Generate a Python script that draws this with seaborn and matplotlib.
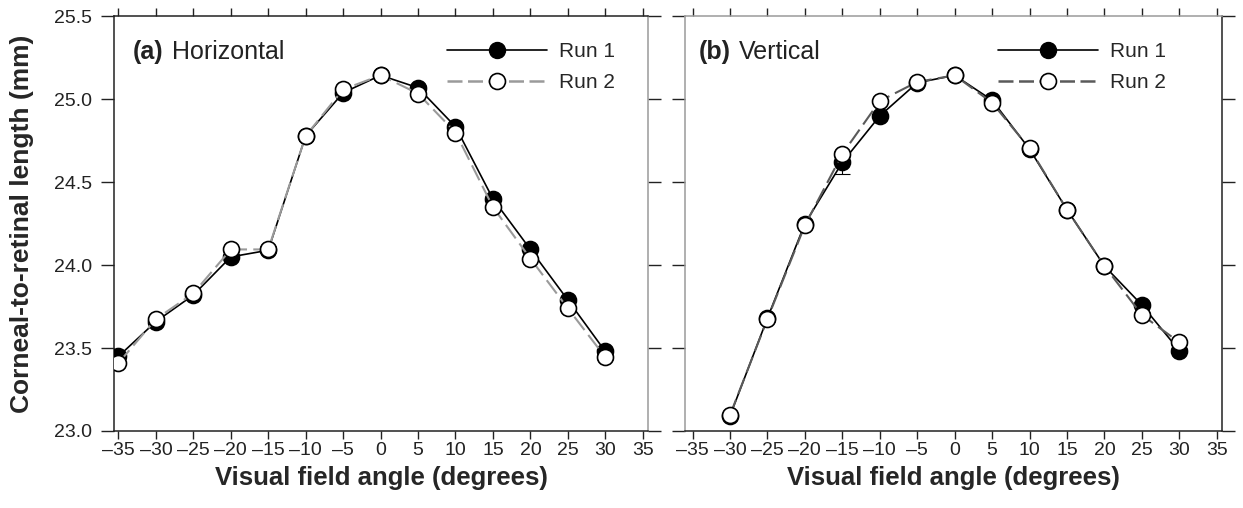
import numpy as np
import pandas as pd
import matplotlib
matplotlib.use("Agg")
import matplotlib.pyplot as plt
from matplotlib.lines import Line2D
import seaborn as sns

# Visual field angles (degrees)
angles_h = [-35, -30, -25, -20, -15, -10, -5, 0, 5, 10, 15, 20, 25, 30]
angles_v = [-30, -25, -20, -15, -10, -5, 0, 5, 10, 15, 20, 25, 30]

# Corneal-to-retinal length (mm), horizontal meridian
h_run1 = [23.45, 23.66, 23.82, 24.05, 24.09, 24.78, 25.04, 25.145, 25.07, 24.835, 24.40, 24.095, 23.79, 23.48]
h_run2 = [23.41, 23.675, 23.83, 24.095, 24.095, 24.78, 25.06, 25.145, 25.035, 24.80, 24.35, 24.04, 23.74, 23.445]
h_err1 = [0.015, 0.015, 0.012, 0.015, 0.012, 0.012, 0.012, 0.008, 0.015, 0.015, 0.015, 0.012, 0.015, 0.015]
h_err2 = [0.015, 0.015, 0.012, 0.015, 0.02, 0.012, 0.012, 0.008, 0.012, 0.015, 0.015, 0.012, 0.015, 0.015]

# Corneal-to-retinal length (mm), vertical meridian
v_run1 = [23.09, 23.68, 24.25, 24.62, 24.90, 25.10, 25.145, 24.995, 24.70, 24.335, 23.995, 23.76, 23.485]
v_run2 = [23.095, 23.675, 24.24, 24.67, 24.99, 25.105, 25.145, 24.98, 24.705, 24.335, 23.995, 23.70, 23.535]
v_err1 = [0.012, 0.015, 0.012, 0.07, 0.012, 0.008, 0.008, 0.012, 0.015, 0.015, 0.012, 0.015, 0.015]
v_err2 = [0.012, 0.015, 0.012, 0.015, 0.012, 0.008, 0.008, 0.012, 0.015, 0.015, 0.012, 0.015, 0.015]

panel_tags = ["(a)", "(b)"]
panel_names = ["Horizontal", "Vertical"]
run_labels = ["Run 1", "Run 2"]
x_ticks = list(range(-35, 36, 5))
y_ticks = [23.0, 23.5, 24.0, 24.5, 25.0, 25.5]

sns.set_theme(style="ticks")
plt.rcParams["font.family"] = ["Liberation Sans", "DejaVu Sans"]

fig = plt.figure(figsize=(12.43, 5.08), dpi=100)
ax1 = fig.add_axes([0.0917, 0.1516, 0.4296, 0.816])
ax2 = fig.add_axes([0.5511, 0.1516, 0.432, 0.816])

MS = 11.5
panels = [
    (ax1, angles_h, h_run1, h_run2, h_err1, h_err2, (-35.6, 35.7), "#9a9a9a", 0.623),
    (ax2, angles_v, v_run1, v_run2, v_err1, v_err2, (-36.0, 35.7), "#5a5a5a", 0.582),
]

for i, (ax, ang, r1, r2, e1, e2, xlim, dash_col, leg_x) in enumerate(panels):
    df = pd.DataFrame({"angle": ang, "run1": r1, "run2": r2})
    ax.errorbar(ang, r1, yerr=e1, fmt="none", ecolor="black", elinewidth=0.8,
                capsize=6, capthick=0.8, zorder=2)
    sns.lineplot(data=df, x="angle", y="run1", ax=ax, color="black", lw=1.2,
                 marker="o", markersize=MS, markerfacecolor="black",
                 markeredgecolor="black", markeredgewidth=1.2, zorder=3)
    ax.errorbar(ang, r2, yerr=e2, fmt="none", ecolor="black", elinewidth=0.8,
                capsize=6, capthick=0.8, zorder=4)
    sns.lineplot(data=df, x="angle", y="run2", ax=ax, color=dash_col, lw=1.5,
                 linestyle=(0, (8, 3)), marker="o", markersize=MS,
                 markerfacecolor="white", markeredgecolor="black",
                 markeredgewidth=1.2, zorder=5)

    ax.set_xlim(*xlim)
    ax.set_ylim(23.0, 25.5)
    ax.set_xticks(x_ticks)
    ax.set_xticklabels([f"{t}".replace("-", "\u2013") for t in x_ticks])
    ax.set_yticks(y_ticks)
    ax.set_xlabel("Visual field angle (degrees)", fontsize=18.5, fontweight="bold",
                  labelpad=5)
    if i == 0:
        ax.set_yticklabels([f"{t:.1f}" for t in y_ticks])
        ax.set_ylabel("Corneal-to-retinal length (mm)", fontsize=19,
                      fontweight="bold", labelpad=14)
    else:
        ax.set_yticklabels([])
        ax.set_ylabel("")

    ax.tick_params(axis="x", which="major", direction="out", length=6, width=1.0,
                   top=True, bottom=True, labelsize=14, pad=2, colors="#222222")
    ax.tick_params(axis="y", which="major", direction="out", length=9.5, width=1.0,
                   left=True, right=True, labelsize=14, pad=6.5, colors="#222222")
    for sp in ax.spines.values():
        sp.set_visible(True)
        sp.set_linewidth(1.1)
        sp.set_color("#222222")

    grey = "#9a9a9a"
    if i == 0:
        ax.spines["right"].set_color(grey)
        for t in ax.yaxis.get_major_ticks():
            t.tick2line.set_color(grey)
    else:
        ax.spines["left"].set_color(grey)
        ax.spines["top"].set_color(grey)
        for t in ax.yaxis.get_major_ticks():
            t.tick1line.set_color(grey)
            t.tick2line.set_color("#666666")

    # panel heading: bold tag followed by regular name
    tag = ax.text(0.036 if i == 0 else 0.026, 0.898, panel_tags[i],
                  transform=ax.transAxes, fontsize=18, fontweight="bold",
                  ha="left", va="baseline", color="#222222")
    ax.annotate(panel_names[i], xy=(1, 0), xycoords=tag, xytext=(6, 0),
                textcoords="offset points", fontsize=18, ha="left",
                va="bottom", color="#222222")

    handles = [
        Line2D([], [], color="black", lw=1.2, marker="o", markersize=MS,
               markerfacecolor="black", markeredgecolor="black"),
        Line2D([], [], color=dash_col, lw=1.8, linestyle=(0, (6, 2.2)), marker="o",
               markersize=MS, markerfacecolor="white", markeredgecolor="black",
               markeredgewidth=1.2),
    ]
    ax.legend(handles, run_labels, loc="upper left", bbox_to_anchor=(leg_x, 0.938),
              frameon=False, fontsize=15, handlelength=4.8, handletextpad=0.58,
              labelspacing=0.56, borderpad=0, borderaxespad=0, numpoints=1)

fig.savefig("out.png", dpi=100)
